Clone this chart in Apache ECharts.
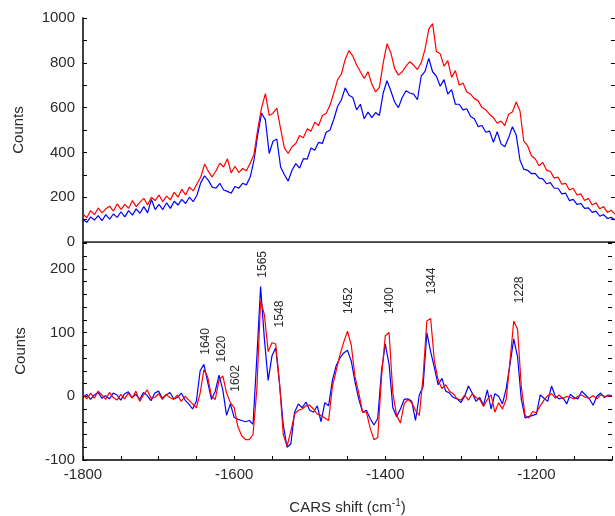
<!DOCTYPE html>
<html>
<head>
<meta charset="utf-8">
<script src="https://cdn.jsdelivr.net/npm/echarts@6/dist/echarts.min.js"></script>
<style>
html,body{margin:0;padding:0;background:#fff;}
#chart{width:615px;height:516px;}
</style>
</head>
<body>
<div id="chart"></div>
<script>
// CARS shift (cm^-1) sampling grid
const shift = [
-1800,-1795,-1790,-1785,-1780,-1775,-1770,-1765,-1760,-1755,-1750,-1745,-1740,-1735,-1730,-1725,-1720,-1715,-1710,-1705,
-1700,-1695,-1690,-1685,-1680,-1675,-1670,-1665,-1660,-1655,-1650,-1645,-1640,-1635,-1630,-1625,-1620,-1615,-1610,-1605,
-1600,-1595,-1590,-1585,-1580,-1575,-1570,-1565,-1560,-1555,-1550,-1545,-1540,-1535,-1530,-1525,-1520,-1515,-1510,-1505,
-1500,-1495,-1490,-1485,-1480,-1475,-1470,-1465,-1460,-1455,-1450,-1445,-1440,-1435,-1430,-1425,-1420,-1415,-1410,-1405,
-1400,-1395,-1390,-1385,-1380,-1375,-1370,-1365,-1360,-1355,-1350,-1345,-1340,-1335,-1330,-1325,-1320,-1315,-1310,-1305,
-1300,-1295,-1290,-1285,-1280,-1275,-1270,-1265,-1260,-1255,-1250,-1245,-1240,-1235,-1230,-1225,-1220,-1215,-1210,-1205,
-1200,-1195,-1190,-1185,-1180,-1175,-1170,-1165,-1160,-1155,-1150,-1145,-1140,-1135,-1130,-1125,-1120,-1115,-1110,-1105,
-1100];

// Top panel: raw spectra (Counts)
const topRed = [
125,108,140,122,152,130,148,160,138,170,145,168,150,185,158,178,195,165,200,185,
210,180,205,188,222,200,235,210,245,228,260,290,348,315,290,318,352,335,372,308,
338,310,328,318,352,392,505,600,662,565,575,598,505,420,395,425,440,475,465,505,
495,535,520,565,575,610,665,725,750,815,855,830,790,760,730,760,705,670,690,800,
885,845,775,745,760,785,805,790,770,800,860,950,975,850,840,785,810,735,765,700,
710,670,660,640,630,600,590,570,555,530,540,520,570,580,625,585,450,430,385,372,
340,355,320,315,285,290,258,262,232,240,210,215,185,195,165,175,148,158,132,142,
125];
const topBlue = [
100,88,112,98,118,95,122,102,125,110,135,112,140,120,148,128,158,130,190,145,
168,145,175,150,182,165,190,172,200,180,210,265,295,275,245,240,262,232,226,218,
248,240,262,255,290,365,480,575,545,395,450,460,335,300,272,320,350,330,372,370,
420,410,445,440,490,500,548,605,635,688,655,645,590,615,550,580,555,578,565,665,
720,675,625,600,645,675,665,660,635,740,762,820,760,740,695,725,660,680,615,615,
590,595,560,550,515,520,490,495,445,492,438,425,465,515,478,365,325,320,305,306,
285,282,260,265,240,240,215,218,185,190,168,172,150,152,132,138,115,122,105,110,
98];

// Bottom panel: processed spectra (Counts)
const botRed = [
3,-4,5,-3,8,2,-5,6,-2,-6,3,-4,5,-3,8,-8,2,10,-3,-2,
4,-5,3,-2,-5,2,-8,0,-6,-12,-18,5,42,30,0,-5,25,32,5,-10,
-18,-48,-62,-68,-68,-60,10,150,128,70,84,82,22,-60,-78,-55,-28,-22,-20,-15,
-14,-20,-28,-30,-34,-38,15,40,65,85,102,80,30,5,-25,-25,-50,-68,-65,30,
95,100,5,-30,-42,-12,-5,-10,-22,-30,30,118,122,55,25,12,18,8,4,-4,
-6,2,-6,4,-2,-5,-16,-5,2,-25,-10,-20,-5,55,118,105,15,-30,-34,-24,
-26,-15,-6,1,4,-3,2,-4,0,-2,-4,0,2,-2,-3,1,-4,2,0,0,
1];
const botBlue = [
-2,3,-5,2,6,-3,1,-4,5,2,-6,4,7,-2,3,-5,6,1,-7,5,
8,-3,2,6,-4,-2,5,-6,-12,-20,-8,40,50,22,-5,8,33,10,-30,-12,
-33,-36,-38,-40,-38,-44,60,172,90,25,63,76,20,-45,-80,-75,-25,-12,-18,-9,
-22,-25,-15,-40,-10,-15,25,48,60,68,72,55,22,-5,-25,-22,-35,-45,-35,40,
82,50,-18,-32,-20,-5,-4,-8,-38,2,15,100,70,45,18,28,8,5,-2,-4,
-10,0,16,5,-8,-2,-14,10,-20,4,0,-12,12,50,90,62,-5,-34,-32,-30,
-28,2,-3,-8,16,0,-4,-2,-12,3,-2,-4,8,2,-4,-14,0,5,-2,2,
1];

// Peak annotations (label text, position in data units of the lower panel)
const peakNames = ['1640','1620','1602','1565','1548','1452','1400','1344','1228'];
const peakX = [-1638,-1616,-1598,-1562,-1540,-1448,-1394,-1338,-1222];
const peakY = [86,74,28,207,129,150,150,181,167];

// Tick labels
const xTickLabels = [-1800,-1600,-1400,-1200];
const topYTickLabels = [0,200,400,600,800,1000];
const botYTickLabels = [-100,0,100,200];

const pair = (xs, ys) => xs.map((x, i) => [x, ys[i]]);
const FONT = 'Liberation Sans, Arial, sans-serif';
const TXT = '#2a2a2a';

const chart = echarts.init(document.getElementById('chart'), null, {renderer: 'canvas'});

const xBase = {min: -1800, max: -1100, interval: 50, type: 'value', splitLine: {show: false}};

const option = {
  animation: false,
  backgroundColor: '#fff',
  grid: [
    {left: 83, right: 0, top: 18, height: 224},
    {left: 83, right: 0, top: 242, height: 218}
  ],
  xAxis: [
    Object.assign({}, xBase, {gridIndex: 0, position: 'bottom',
      axisLine: {show: true, lineStyle: {color: '#555', width: 1.5}},
      axisTick: {show: false}, axisLabel: {show: false}}),
    Object.assign({}, xBase, {gridIndex: 0, position: 'top',
      axisLine: {show: true, lineStyle: {color: '#000', width: 1.2}},
      axisTick: {show: false}, axisLabel: {show: false}}),
    Object.assign({}, xBase, {gridIndex: 1, position: 'bottom',
      axisLine: {show: true, onZero: false, lineStyle: {color: '#000', width: 1.5}},
      axisTick: {show: true, inside: true, length: 4, lineStyle: {color: '#000'}},
      axisLabel: {show: true, margin: 7, fontFamily: FONT, fontSize: 15, color: TXT,
        formatter: v => xTickLabels.indexOf(v) >= 0 ? String(v) : ''},
      name: 'CARS shift (cm{sup|-1})', nameLocation: 'middle', nameGap: 38,
      nameTextStyle: {fontFamily: FONT, fontSize: 15, color: TXT,
        rich: {sup: {fontFamily: FONT, fontSize: 10, color: TXT, padding: [0, 0, 9, 0]}}}}),
    Object.assign({}, xBase, {gridIndex: 1, position: 'top',
      axisLine: {show: true, onZero: false, lineStyle: {color: '#555', width: 1.5}},
      axisTick: {show: false}, axisLabel: {show: false}})
  ],
  yAxis: [
    {gridIndex: 0, type: 'value', min: 0, max: 1000, interval: 100, position: 'left',
      splitLine: {show: false},
      axisLine: {show: true, onZero: false, lineStyle: {color: '#000', width: 1.5}},
      axisTick: {show: true, inside: true, length: 4, lineStyle: {color: '#000'}},
      axisLabel: {margin: 8, fontFamily: FONT, fontSize: 15, color: TXT,
        formatter: v => topYTickLabels.indexOf(v) >= 0 ? String(v) : ''},
      name: 'Counts', nameLocation: 'middle', nameGap: 57,
      nameTextStyle: {fontFamily: FONT, fontSize: 15, color: TXT}},
    {gridIndex: 0, type: 'value', min: 0, max: 1000, interval: 100, position: 'right',
      splitLine: {show: false},
      axisLine: {show: false, onZero: false},
      axisTick: {show: true, inside: true, length: 4, lineStyle: {color: '#000'}},
      axisLabel: {show: false}},
    {gridIndex: 1, type: 'value', min: -100, max: 242, interval: 20, position: 'left',
      splitLine: {show: false},
      axisLine: {show: true, onZero: false, lineStyle: {color: '#000', width: 1.5}},
      axisTick: {show: true, inside: true, length: 4, lineStyle: {color: '#000'}},
      axisLabel: {margin: 8, fontFamily: FONT, fontSize: 15, color: TXT,
        formatter: v => botYTickLabels.indexOf(v) >= 0 ? String(v) : ''},
      name: 'Counts', nameLocation: 'middle', nameGap: 55,
      nameTextStyle: {fontFamily: FONT, fontSize: 15, color: TXT}},
    {gridIndex: 1, type: 'value', min: -100, max: 242, interval: 20, position: 'right',
      splitLine: {show: false},
      axisLine: {show: false, onZero: false},
      axisTick: {show: true, inside: true, length: 4, lineStyle: {color: '#000'}},
      axisLabel: {show: false}}
  ],
  series: [
    {type: 'line', xAxisIndex: 0, yAxisIndex: 0, data: pair(shift, topBlue), showSymbol: false,
      lineStyle: {color: '#0000ff', width: 1.2}, itemStyle: {color: '#0000ff'}},
    {type: 'line', xAxisIndex: 0, yAxisIndex: 0, data: pair(shift, topRed), showSymbol: false,
      lineStyle: {color: '#ff0000', width: 1.2}, itemStyle: {color: '#ff0000'}},
    {type: 'line', xAxisIndex: 2, yAxisIndex: 2, data: pair(shift, botBlue), showSymbol: false,
      lineStyle: {color: '#0000ff', width: 1.2}, itemStyle: {color: '#0000ff'}},
    {type: 'line', xAxisIndex: 2, yAxisIndex: 2, data: pair(shift, botRed), showSymbol: false,
      lineStyle: {color: '#ff0000', width: 1.2}, itemStyle: {color: '#ff0000'},
      markPoint: {
        symbol: 'circle', symbolSize: 0, silent: true,
        label: {show: true, position: 'inside', rotate: 90, fontFamily: FONT, fontSize: 12, color: TXT,
          formatter: p => p.name},
        data: peakNames.map((n, i) => ({name: n, coord: [peakX[i], peakY[i]]}))
      }}
  ]
};
chart.setOption(option);
</script>
</body>
</html>
